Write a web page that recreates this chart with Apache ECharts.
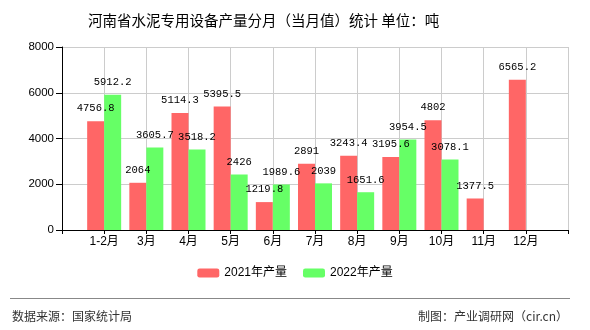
<!DOCTYPE html>
<html>
<head>
<meta charset="utf-8">
<script src="https://cdn.jsdelivr.net/npm/echarts@6/dist/echarts.min.js"></script>
<style>
html,body{margin:0;padding:0;background:#fff;}
#main{width:590px;height:330px;}
</style>
</head>
<body>
<div id="main"></div>
<script>
var categories = ['1-2月','3月','4月','5月','6月','7月','8月','9月','10月','11月','12月'];
var values2021 = [4756.8, 2064, 5114.3, 5395.5, 1219.8, 2891, 3243.4, 3195.6, 4802, 1377.5, 6565.2];
var values2022 = [5912.2, 3605.7, 3518.2, 2426, 1989.6, 2039, 1651.6, 3954.5, 3078.1, null, null];
var seriesNames = ['2021年产量', '2022年产量'];
var yTicks = [0, 2000, 4000, 6000, 8000];

var cats = [''].concat(categories).concat(['']);
function pad(a){ return [null].concat(a).concat([null]); }

var chart = echarts.init(document.getElementById('main'), null, {renderer:'canvas'});
var labelOpt = {
  show: true, position: 'top', distance: 7,
  color: '#000', fontFamily: 'Liberation Mono', fontSize: 10.5,
  formatter: function(p){ return p.value == null ? '' : String(p.value); }
};
chart.setOption({
  animation: false,
  title: {
    text: '河南省水泥专用设备产量分月（当月值）统计 单位：吨',
    left: 83, top: 8,
    textStyle: {fontSize: 14.5, fontWeight: 'normal', color: '#000', fontFamily: 'Noto Sans CJK SC'}
  },
  legend: {
    data: seriesNames, bottom: 46, left: 'center',
    itemWidth: 22, itemHeight: 9, itemGap: 16,
    textStyle: {fontSize: 12, color: '#000', fontFamily: 'Liberation Sans, Noto Sans CJK SC'}
  },
  grid: {left: 62, right: 22, top: 47, bottom: 100},
  xAxis: {
    type: 'category', data: cats, boundaryGap: false,
    axisLine: {lineStyle: {color: '#000'}},
    axisTick: {show: true, length: 4, interval: 0, lineStyle: {color: '#000'}},
    axisLabel: {interval: 0, margin: 6, color: '#000', fontSize: 12, fontFamily: 'Liberation Sans, Noto Sans CJK SC'},
    splitLine: {show: true, interval: 0, lineStyle: {color: '#ccc'}}
  },
  yAxis: {
    type: 'value', min: yTicks[0], max: yTicks[yTicks.length-1], interval: 2000,
    axisLine: {show: true, lineStyle: {color: '#000'}},
    axisTick: {show: true, length: 6, lineStyle: {color: '#000'}},
    axisLabel: {margin: 8, color: '#000', fontSize: 11.5, fontFamily: 'Liberation Sans',
      formatter: function(v){ return String(v); }},
    splitLine: {show: true, lineStyle: {color: '#ccc'}}
  },
  series: [
    {name: seriesNames[0], type: 'bar', data: pad(values2021), barWidth: 17, barGap: '0%',
     itemStyle: {color: '#ff6666'}, label: labelOpt},
    {name: seriesNames[1], type: 'bar', data: pad(values2022), barWidth: 17, barGap: '0%',
     itemStyle: {color: '#66ff66'}, label: labelOpt}
  ],
  graphic: [
    {type: 'line', shape: {x1: 10, y1: 298.5, x2: 570, y2: 298.5}, style: {stroke: '#888', lineWidth: 1}},
    {type: 'text', left: 12, top: 310, style: {text: '数据来源：国家统计局', fill: '#333', fontSize: 12, fontFamily: 'Noto Sans CJK SC'}},
    {type: 'text', right: 22, top: 310, style: {text: '制图：产业调研网（cir.cn）', fill: '#333', fontSize: 12, fontFamily: 'Noto Sans CJK SC'}}
  ]
});
</script>
</body>
</html>
